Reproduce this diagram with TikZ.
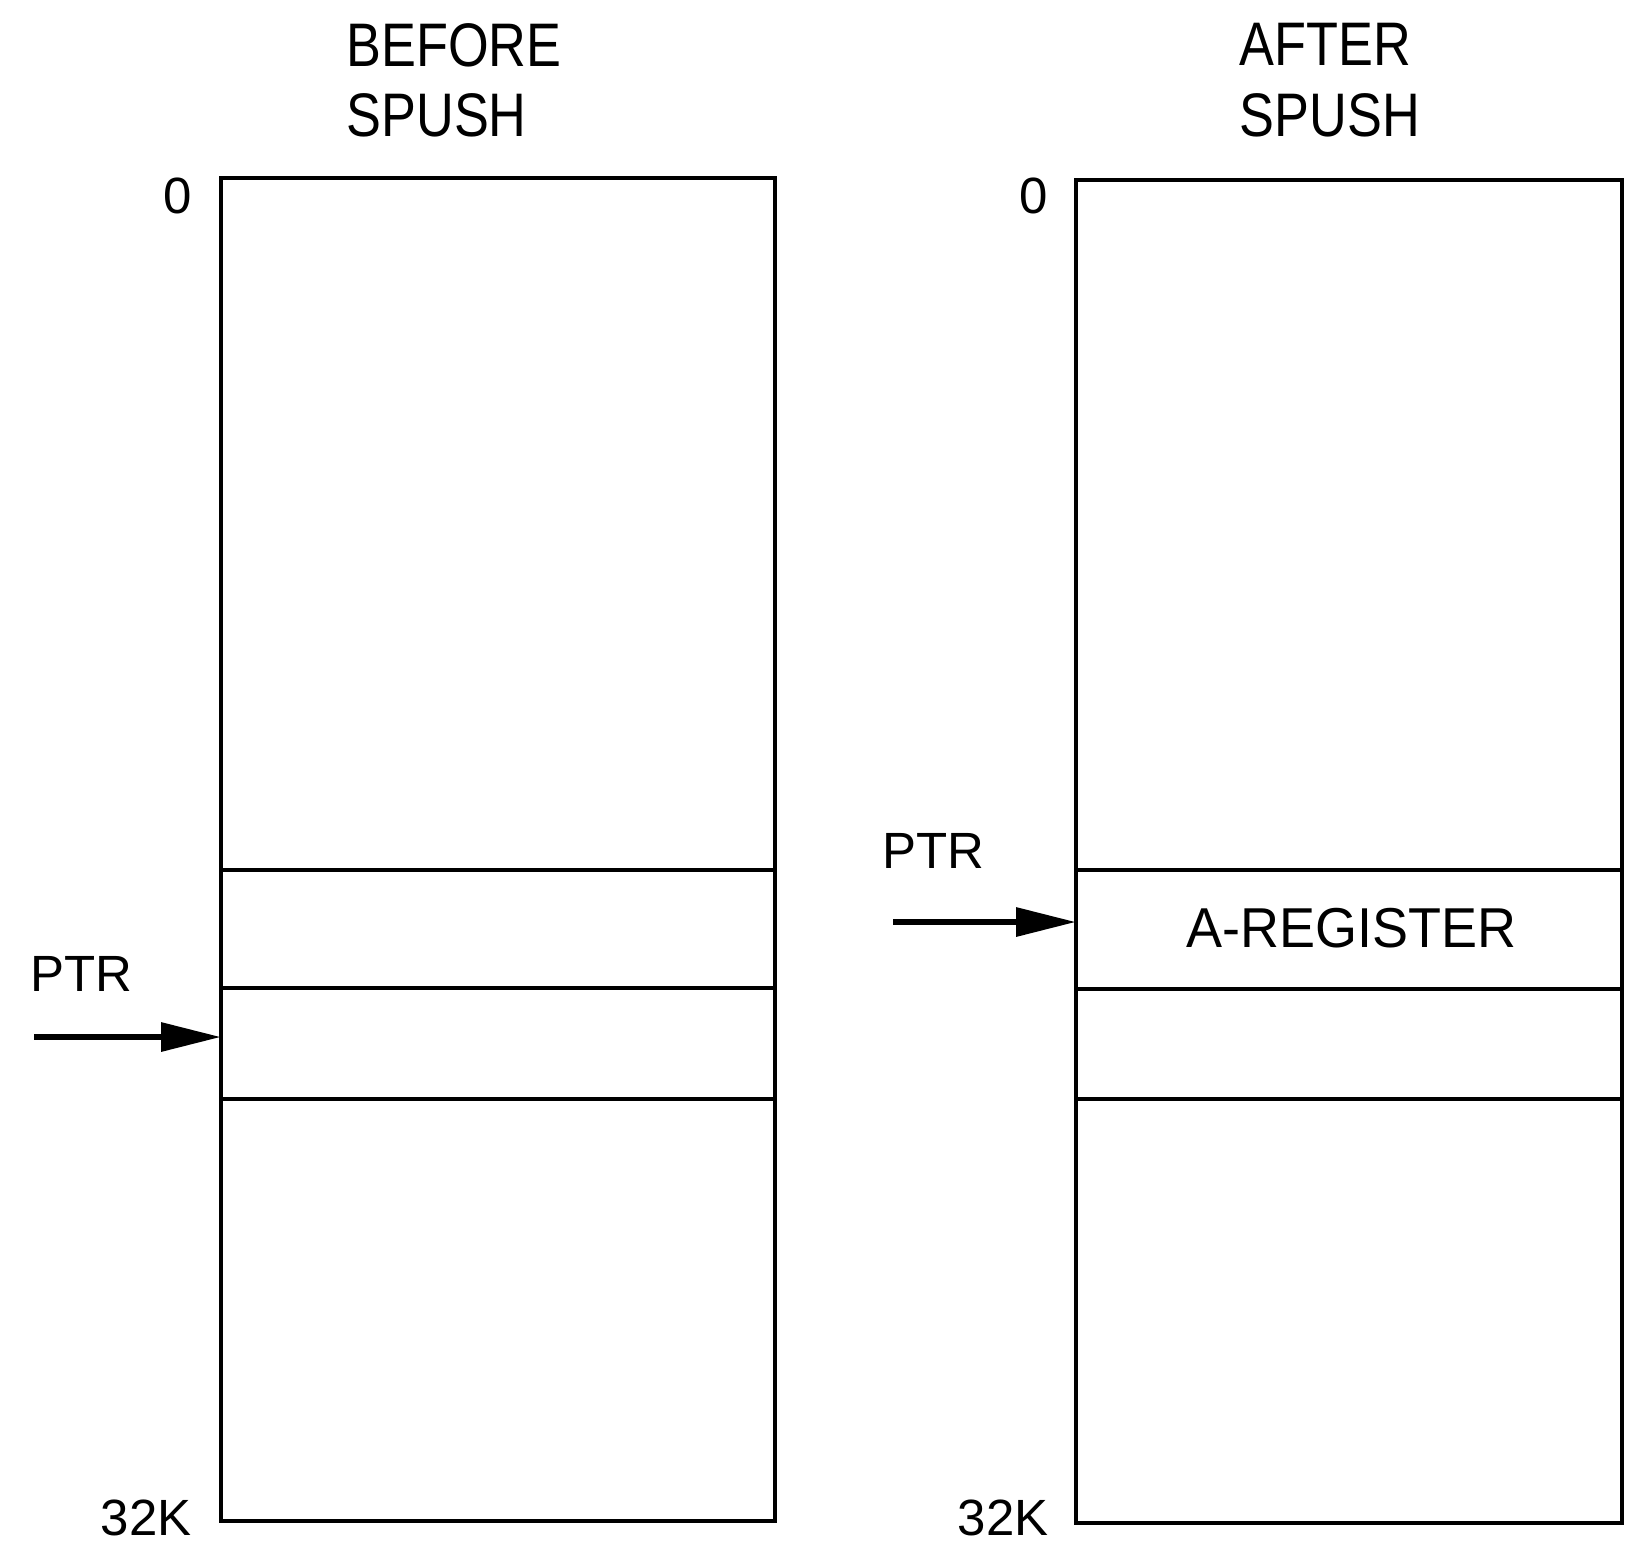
\documentclass[tikz,border=0pt]{standalone}
\usepackage{fontspec}
\setmainfont{Liberation Sans}
\usetikzlibrary{arrows.meta,positioning}

\begin{document}
\begin{tikzpicture}[
    box/.style={line width=1.4pt},
    lbl/.style={font=\fontsize{14.5}{17}\selectfont, inner sep=0pt},
    ttl/.style={font=\fontsize{17.5}{20}\selectfont, inner sep=0pt, xscale=0.85, align=left},
    ptrarrow/.style={line width=1.8pt, -{Triangle[length=6mm,width=2.8mm]}}
]
    \useasboundingbox (0,0) rectangle (16.38,-15.53);

    % Tumpukan sebelum SPUSH
    \draw[box] (2.21,-1.78) rectangle (7.75,-15.21);
    \draw[box] (2.21,-8.70) -- (7.75,-8.70);
    \draw[box] (2.21,-9.88) -- (7.75,-9.88);
    \draw[box] (2.21,-10.99) -- (7.75,-10.99);

    % Tumpukan sesudah SPUSH
    \draw[box] (10.76,-1.80) rectangle (16.22,-15.23);
    \draw[box] (10.76,-8.70) -- (16.22,-8.70);
    \draw[box] (10.76,-9.89) -- (16.22,-9.89);
    \draw[box] (10.76,-10.99) -- (16.22,-10.99);

    % Judul
    \node (ttlBefore) at (4.54,-0.80) [ttl] {BEFORE\\SPUSH};
    \node (ttlAfter) at (13.30,-0.80) [ttl] {AFTER\\SPUSH};

    % Alamat
    \node (zeroL) at (1.78,-1.96) [lbl] {0};
    \node (kL) at (1.46,-15.18) [lbl] {32K};
    \node (zeroR) at (10.34,-1.96) [lbl] {0};
    \node (kR) at (10.03,-15.18) [lbl] {32K};

    % Isi register
    \node (areg) at (13.51,-9.28) [lbl, font=\fontsize{16}{19}\selectfont, xscale=0.96] {A-REGISTER};

    % Penunjuk PTR
    \node (ptrL) at (0.81,-9.74) [lbl] {PTR};
    \node (ptrR) at (9.33,-8.51) [lbl] {PTR};
    \coordinate (tailL) at (0.34,-10.37);
    \coordinate (headL) at (2.21,-10.37);
    \coordinate (tailR) at (8.93,-9.22);
    \coordinate (headR) at (10.76,-9.22);
    \draw[ptrarrow] (tailL) -- (headL);
    \draw[ptrarrow] (tailR) -- (headR);
\end{tikzpicture}
\end{document}
